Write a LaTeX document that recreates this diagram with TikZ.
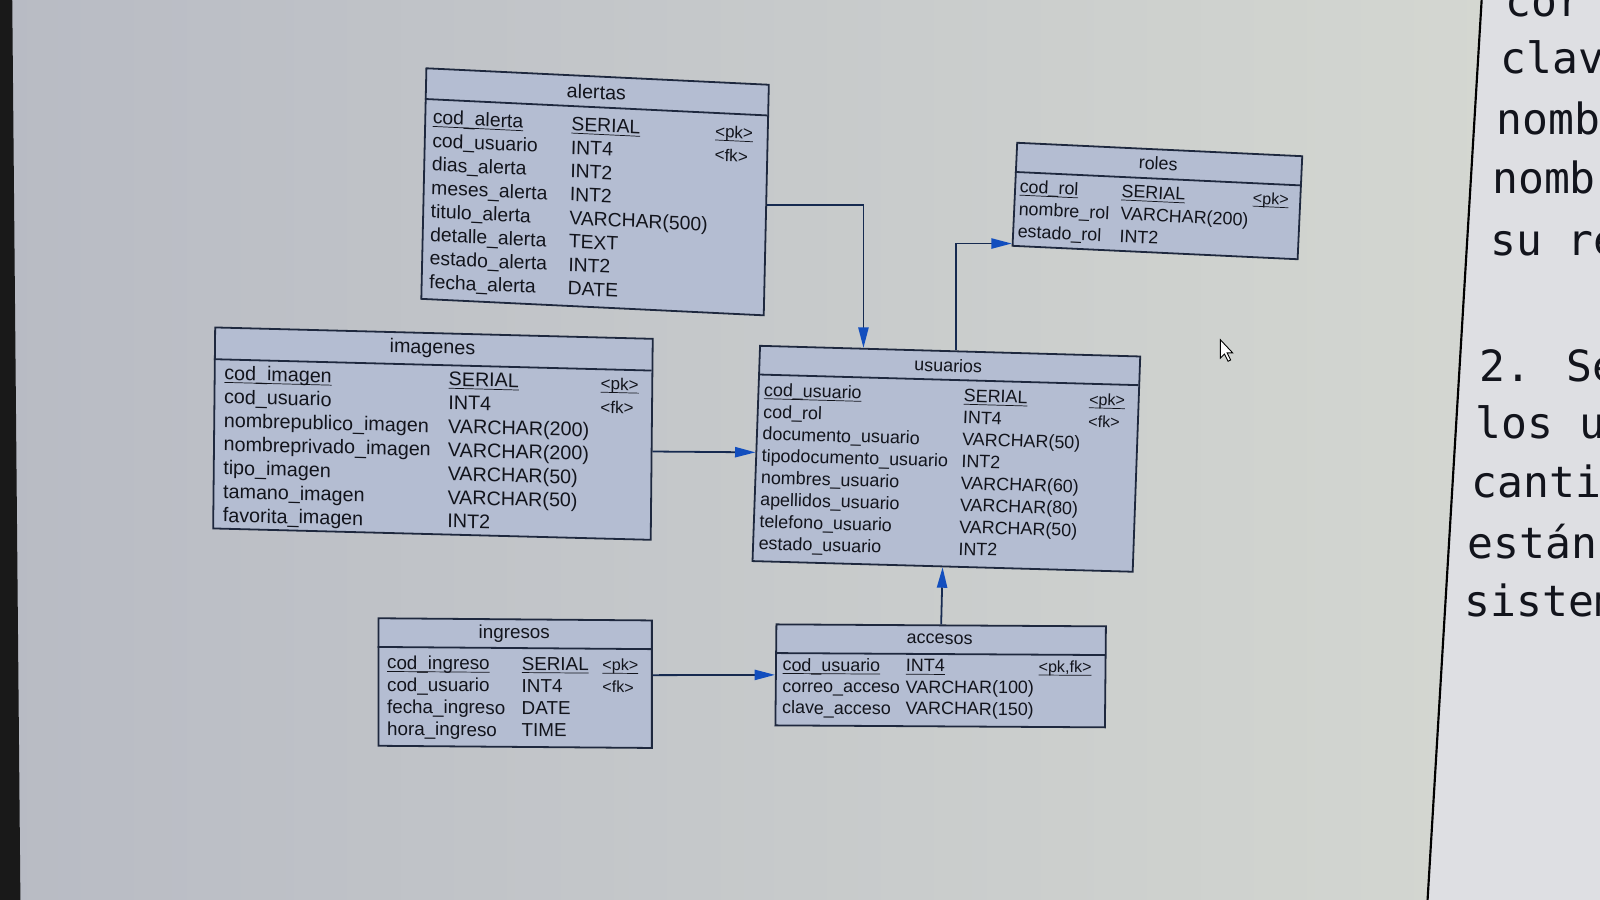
\documentclass[tikz,border=0pt]{standalone}
\usepackage{fontspec}
\setmainfont{Liberation Sans}
\newfontfamily\panelfont{DejaVu Sans Mono}
\usetikzlibrary{arrows.meta,calc}
\setlength{\tabcolsep}{0pt}
\newcommand\keyline[1]{\underline{\smash{#1}}}
\definecolor{bgleft}{RGB}{184,187,196}
\definecolor{bgright}{RGB}{214,217,210}
\definecolor{panelbg}{RGB}{222,223,227}
\definecolor{boxfill}{RGB}{180,189,210}
\definecolor{boxline}{RGB}{30,40,62}
\definecolor{linecol}{RGB}{22,42,80}
\definecolor{tipblue}{RGB}{18,78,190}
\definecolor{inkcol}{RGB}{18,20,28}

\tikzset{
  tbl/.style={draw=boxline, fill=boxfill, line width=1pt, inner sep=0pt, anchor=north west},
  tbltitle/.style={font=\fontsize{#1}{#1}\selectfont, text=inkcol, inner sep=0pt},
  tblbody/.style 2 args={font=\fontsize{#1}{#2}\selectfont, text=inkcol, inner sep=0pt, anchor=base west},
  hdr/.style={draw=boxline, line width=1pt},
  fk/.style={draw=linecol, line width=1pt, -{Triangle[length=0.4cm, width=0.2cm, color=tipblue]}},
  paneltxt/.style={font=\panelfont\fontsize{24}{24}\selectfont, text=inkcol, anchor=base west, inner sep=0pt}
}

\begin{document}
\begin{tikzpicture}[x=0.02cm, y=-0.02cm]
\useasboundingbox (0,0) rectangle (1568,882);
\begin{scope}
\clip (0,0) rectangle (1568,882);

% screen background
\shade[left color=bgleft, right color=bgright] (0,0) rectangle (1568,882);
\fill[panelbg] (1452,0) -- (1568,0) -- (1568,882) -- (1399,882) -- cycle;
\draw[black, line width=1.2pt] (1452,0) -- (1399,882);
\fill[black!90] (0,0) -- (12,0) -- (20,882) -- (0,882) -- cycle;

% alertas
\begin{scope}[shift={(417,66)}, xslant=0.022, yslant=-0.048, transform shape]
  \node[tbl, minimum width=6.72cm, minimum height=4.52cm] (alertas) at (0,0) {};
  \draw[hdr] (0,31) -- (336,31);
  \node[tbltitle=11] (alertas-t) at (168,16) {alertas};
  \node[tblbody={10.8}{13.1}] (alertas-b) at (8,55) {\begin{tabular}[t]{@{}p{2.72cm}p{2.82cm}l@{}}
    \keyline{cod\_alerta} & \keyline{SERIAL} & {\fontsize{9.5}{10}\selectfont\keyline{<pk>}}\\
    cod\_usuario & INT4 & {\fontsize{9.5}{10}\selectfont <fk>}\\
    dias\_alerta & INT2 & \\
    meses\_alerta & INT2 & \\
    titulo\_alerta & VARCHAR(500) & \\
    detalle\_alerta & TEXT & \\
    estado\_alerta & INT2 & \\
    fecha\_alerta & DATE &
  \end{tabular}};
\end{scope}

% roles
\begin{scope}[shift={(996,139)}, xslant=0.045, yslant=-0.047, transform shape]
  \node[tbl, minimum width=5.6cm, minimum height=2.02cm] (roles) at (0,0) {};
  \draw[hdr] (0,29.5) -- (280,29.5);
  \node[tbltitle=10] (roles-t) at (140,14.5) {roles};
  \node[tblbody={10}{12.5}] (roles-b) at (5,49.5) {\begin{tabular}[t]{@{}p{2.0cm}p{2.58cm}l@{}}
    \keyline{cod\_rol} & \keyline{SERIAL} & {\fontsize{9}{10}\selectfont\keyline{<pk>}}\\
    nombre\_rol & VARCHAR(200) & \\
    estado\_rol & INT2 &
  \end{tabular}};
\end{scope}

% imagenes
\begin{scope}[shift={(210,320)}, xslant=0.01, yslant=-0.026, transform shape]
  \node[tbl, minimum width=8.58cm, minimum height=3.94cm] (imagenes) at (0,0) {};
  \draw[hdr] (0,32) -- (429,32);
  \node[tbltitle=11] (imagenes-t) at (214,16) {imagenes};
  \node[tblbody={11}{13.2}] (imagenes-b) at (10,52) {\begin{tabular}[t]{@{}p{4.4cm}p{2.98cm}l@{}}
    \keyline{cod\_imagen} & \keyline{SERIAL} & {\fontsize{9.5}{10}\selectfont\keyline{<pk>}}\\
    cod\_usuario & INT4 & {\fontsize{9.5}{10}\selectfont <fk>}\\
    nombrepublico\_imagen & VARCHAR(200) & \\
    nombreprivado\_imagen & VARCHAR(200) & \\
    tipo\_imagen & VARCHAR(50) & \\
    tamano\_imagen & VARCHAR(50) & \\
    favorita\_imagen & INT2 &
  \end{tabular}};
\end{scope}

% usuarios
\begin{scope}[shift={(744,338)}, xslant=0.035, yslant=-0.028, transform shape]
  \node[tbl, minimum width=7.46cm, minimum height=4.22cm] (usuarios) at (0,0) {};
  \draw[hdr] (0,29) -- (373,29);
  \node[tbltitle=10] (usuarios-t) at (186,15) {usuarios};
  \node[tblbody={10}{12.23}] (usuarios-b) at (6,50) {\begin{tabular}[t]{@{}p{3.92cm}p{2.46cm}l@{}}
    \keyline{cod\_usuario} & \keyline{SERIAL} & {\fontsize{9}{10}\selectfont\keyline{<pk>}}\\
    cod\_rol & INT4 & {\fontsize{9}{10}\selectfont <fk>}\\
    documento\_usuario & VARCHAR(50) & \\
    tipodocumento\_usuario & INT2 & \\
    nombres\_usuario & VARCHAR(60) & \\
    apellidos\_usuario & VARCHAR(80) & \\
    telefono\_usuario & VARCHAR(50) & \\
    estado\_usuario & INT2 &
  \end{tabular}};
\end{scope}

% ingresos
\begin{scope}[shift={(370,605)}, yslant=-0.008, transform shape]
  \node[tbl, minimum width=5.36cm, minimum height=2.5cm] (ingresos) at (0,0) {};
  \draw[hdr] (0,29) -- (268,29);
  \node[tbltitle=10.5] (ingresos-t) at (134,15) {ingresos};
  \node[tblbody={10.5}{12.35}] (ingresos-b) at (9,50.5) {\begin{tabular}[t]{@{}p{2.64cm}p{1.58cm}l@{}}
    \keyline{cod\_ingreso} & \keyline{SERIAL} & {\fontsize{9}{10}\selectfont\keyline{<pk>}}\\
    cod\_usuario & INT4 & {\fontsize{9}{10}\selectfont <fk>}\\
    fecha\_ingreso & DATE & \\
    hora\_ingreso & TIME &
  \end{tabular}};
\end{scope}

% accesos
\begin{scope}[shift={(760,611)}, xslant=0.01, yslant=-0.006, transform shape]
  \node[tbl, minimum width=6.46cm, minimum height=1.98cm] (accesos) at (0,0) {};
  \draw[hdr] (0,29) -- (323,29);
  \node[tbltitle=10] (accesos-t) at (161,14.5) {accesos};
  \node[tblbody={10}{11.95}] (accesos-b) at (7,46.5) {\begin{tabular}[t]{@{}p{2.42cm}p{2.6cm}l@{}}
    \keyline{cod\_usuario} & \keyline{INT4} & {\fontsize{9}{10}\selectfont\keyline{<pk,fk>}}\\
    correo\_acceso & VARCHAR(100) & \\
    clave\_acceso & VARCHAR(150) &
  \end{tabular}};
\end{scope}

% references
\draw[fk] ($(alertas.north east)!0.52!(alertas.south east)$) -| ($(usuarios.north west)!0.273!(usuarios.north east)$);
\draw[fk] ($(usuarios.north west)!0.515!(usuarios.north east)$) |- ($(roles.north west)!0.97!(roles.south west)$);
\draw[fk] ($(imagenes.north east)!0.56!(imagenes.south east)$) -- ($(usuarios.north west)!0.495!(usuarios.south west)$);
\draw[fk] (accesos.north) -- (usuarios.south);
\draw[fk] ($(ingresos.north east)!0.43!(ingresos.south east)$) -- (accesos.west);

% mouse pointer
\filldraw[fill=white, draw=black, line width=0.5pt] (1196,333) -- ++(0,18) -- ++(4,-4) -- ++(3.5,7) -- ++(2.5,-1.2) -- ++(-3.5,-7) -- ++(5.5,0) -- cycle;

% text panel on the right
\node[paneltxt] (p1) at (1475,16) {cor};
\node[paneltxt] (p2) at (1470,72) {clav};
\node[paneltxt] (p3) at (1466,132) {nomb};
\node[paneltxt] (p4) at (1462,190) {nombr};
\node[paneltxt] (p5) at (1460,250) {su re};
\node[paneltxt] (p6) at (1450,374) {2. Se};
\node[paneltxt] (p7) at (1446,430) {los u};
\node[paneltxt] (p8) at (1442,488) {canti};
\node[paneltxt] (p9) at (1438,547) {están};
\node[paneltxt] (p10) at (1435,604) {sistem};
\end{scope}
\end{tikzpicture}
\end{document}
